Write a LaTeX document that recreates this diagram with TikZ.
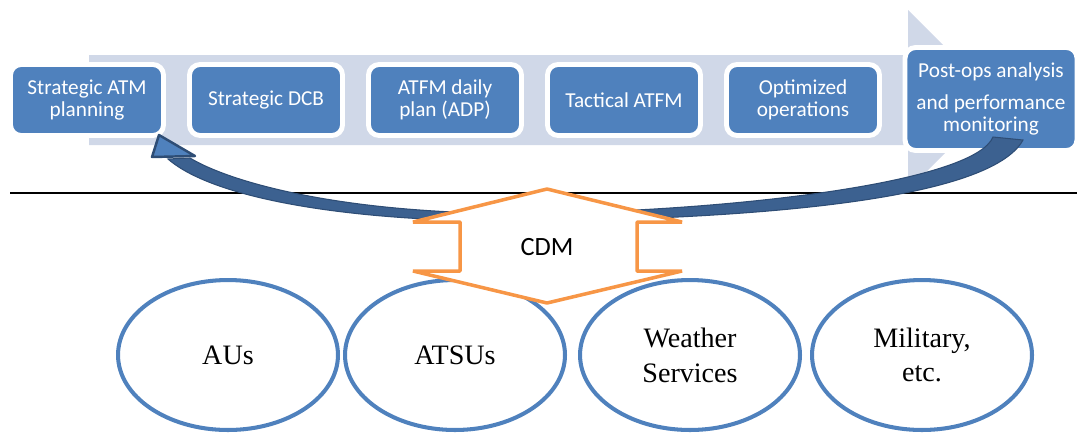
\documentclass[tikz,border=0pt]{standalone}
\usepackage{fontspec}
\setmainfont{Liberation Serif}
\newfontfamily\calibri{Carlito}
\usetikzlibrary{shapes.geometric}
\definecolor{boxblue}{HTML}{4F81BD}
\definecolor{bandgray}{HTML}{D0D8E8}
\definecolor{arrblue}{HTML}{3C6190}
\definecolor{arredge}{HTML}{2E4D75}
\definecolor{cdmorange}{HTML}{F79646}

\begin{document}
\begin{tikzpicture}[x=0.02cm,y=-0.02cm,
  stage/.style={draw=white,line width=2.8pt,fill=boxblue,rounded corners=6pt,text=white,align=center,
    minimum width=3.06cm,minimum height=1.42cm,inner sep=1pt,font=\calibri\fontsize{12.1}{12.6}\selectfont},
  party/.style={ellipse,draw=boxblue,line width=2.3pt,minimum width=4.4cm,minimum height=3cm,
    align=center,font=\fontsize{16}{19.8}\selectfont}]
  \useasboundingbox (0,0) rectangle (1077,434);
  % process band
  \fill[bandgray](89,55)--(908,55)--(908,10)--(998,100)--(908,190)--(908,145)--(89,145)--cycle;
  \foreach \i/\x/\t in {1/87/{Strategic ATM\\planning},2/266/{Strategic DCB},3/445/{ATFM daily\\plan (ADP)},
    4/624/{Tactical ATFM},5/803/{Optimized\\operations}}
    \node[stage](p\i) at (\x,100){\t};
  \node[stage,minimum width=3.44cm,minimum height=2.06cm](post) at (991,99)
    {Post-ops analysis\\[5.5pt] and performance\\ monitoring};
  \draw[line width=1.2pt](10,193)--(1077,193);
  % feedback arrow
  \coordinate (tailL) at (993,137);
  \coordinate (tailR) at (1023,140);
  \coordinate (tip) at (159,135);
  \filldraw[fill=arrblue,draw=arredge,line width=0.6pt]
    (tailL) .. controls (975,180) and (760,208) .. (560,213)
    .. controls (360,218) and (235,185) .. (190,158) -- (168,159)
    .. controls (215,200) and (360,225) .. (560,221)
    .. controls (760,217) and (990,200) .. (tailR) -- cycle;
  \filldraw[fill=boxblue,draw=arredge,line width=1.4pt,line join=round](tip)--(195,156)--(152,157)--cycle;
  % stakeholders
  \foreach \i/\x/\t in {1/228/AUs,2/455/ATSUs,3/690/{Weather\\Services},4/922/{Military,\\etc.}}
    \node[party](e\i) at (\x,355){\t};
  \filldraw[fill=white,draw=cdmorange,line width=2pt,line join=bevel]
    (547,189)--(682,222)--(637,222)--(637,271)--(682,271)--(547,303)--(413,271)--(460,271)--(460,222)--(413,222)--cycle;
  \node[font=\calibri\fontsize{15}{18}\selectfont](cdm) at (547,247){CDM};
\end{tikzpicture}
\end{document}
